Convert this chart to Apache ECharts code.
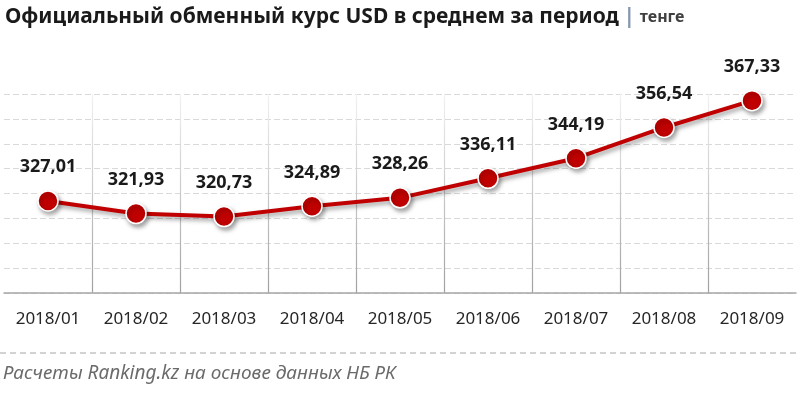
<!DOCTYPE html>
<html>
<head>
<meta charset="utf-8">
<script src="https://cdn.jsdelivr.net/npm/echarts@6/dist/echarts.min.js"></script>
<style>
  html, body { margin: 0; padding: 0; background: #fff; }
  #chart { width: 800px; height: 397px; }
</style>
</head>
<body>
<div id="chart"></div>
<script>
// Data
const months = ['2018/01', '2018/02', '2018/03', '2018/04', '2018/05', '2018/06', '2018/07', '2018/08', '2018/09'];
const usdRate = [327.01, 321.93, 320.73, 324.89, 328.26, 336.11, 344.19, 356.54, 367.33];
const yMin = 290;
const yMax = 370;
const yStep = 10;

const titleMain = 'Официальный обменный курс USD в среднем за период';
const titleUnit = 'тенге';
const sourceNote = 'Расчеты Ranking.kz на основе данных НБ РК';

const chart = echarts.init(document.getElementById('chart'));

const option = {
  animation: false,
  backgroundColor: '#ffffff',
  textStyle: { fontFamily: 'Noto Sans' },
  title: {
    left: 0,
    top: 2,
    text: '{a|' + titleMain + '} {b||} {c|' + titleUnit + '}',
    textStyle: {
      rich: {
        a: { fontSize: 21, fontWeight: 'bold', color: '#1a1a1a', fontFamily: 'Noto Sans' },
        b: { fontSize: 21, fontWeight: 'bold', color: '#8497b0', fontFamily: 'Noto Sans' },
        c: { fontSize: 16, color: '#404040', fontFamily: 'Noto Sans' }
      }
    }
  },
  grid: {
    left: 4,
    right: 4,
    top: 94,
    bottom: 104
  },
  xAxis: {
    type: 'category',
    data: months,
    boundaryGap: true,
    axisLine: { lineStyle: { color: '#a6a6a6', width: 1.5 } },
    axisTick: { show: false },
    axisLabel: {
      interval: 0,
      margin: 18,
      fontSize: 17,
      color: '#262626',
      fontFamily: 'Noto Sans'
    },
    splitLine: {
      show: true,
      showMinLine: false,
      showMaxLine: false,
      lineStyle: {
        width: 1.2,
        color: {
          type: 'linear', global: true,
          x: 0, y: 94, x2: 0, y2: 293,
          colorStops: [
            { offset: 0, color: '#f2f2f2' },
            { offset: 1, color: '#a0a0a0' }
          ]
        }
      }
    }
  },
  yAxis: {
    type: 'value',
    min: yMin,
    max: yMax,
    interval: yStep,
    axisLine: { show: false },
    axisTick: { show: false },
    axisLabel: { show: false },
    splitLine: {
      lineStyle: { color: '#d9d9d9', type: [6, 3], width: 1.2 }
    }
  },
  series: [
    {
      type: 'line',
      data: usdRate,
      symbol: 'circle',
      symbolSize: 20,
      lineStyle: {
        color: '#c00000',
        width: 4,
        shadowColor: 'rgba(0,0,0,0.35)',
        shadowBlur: 4,
        shadowOffsetX: 2,
        shadowOffsetY: 3
      },
      itemStyle: {
        color: '#c00000',
        borderColor: '#ffffff',
        borderWidth: 1.5,
        shadowColor: 'rgba(0,0,0,0.35)',
        shadowBlur: 4,
        shadowOffsetX: 2,
        shadowOffsetY: 3
      },
      label: {
        show: true,
        position: 'top',
        distance: 14,
        fontSize: 18,
        fontWeight: 'bold',
        color: '#1a1a1a',
        fontFamily: 'Noto Sans',
        formatter: p => p.value.toFixed(2).replace('.', ',')
      },
      z: 3
    }
  ],
  graphic: [
    {
      type: 'line',
      shape: { x1: 0, y1: 353, x2: 800, y2: 353 },
      style: { stroke: '#a6a6a6', lineWidth: 1, lineDash: [6, 4] }
    },
    {
      type: 'text',
      left: 3,
      top: 364,
      style: {
        text: sourceNote,
        fontSize: 19,
        fontStyle: 'italic',
        fontFamily: 'Noto Sans',
        fill: '#6b6b6b'
      }
    }
  ]
};

chart.setOption(option);
window.addEventListener('resize', () => chart.resize());
</script>
</body>
</html>
